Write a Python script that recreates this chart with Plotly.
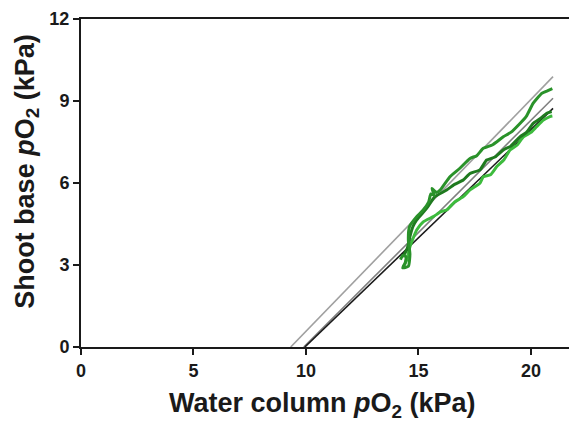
import plotly.graph_objects as go

# Green traces (measured shoot base pO2 vs water column pO2)
top_x = [14.2, 14.3, 14.45, 14.4, 14.3, 14.55, 14.62, 14.55, 14.6, 14.92, 15.2, 15.45, 15.55, 15.7, 15.6, 15.8, 15.96, 16.4, 16.84, 17.29, 17.59, 17.88, 18.3, 18.77, 19.1, 19.51, 19.8, 20.1, 20.48, 20.75, 20.95]
top_y = [3.2, 3.35, 3.3, 3.05, 2.9, 2.95, 3.4, 3.9, 4.4, 4.77, 5.0, 5.3, 5.6, 5.55, 5.8, 5.65, 5.74, 6.23, 6.54, 6.9, 7.0, 7.27, 7.4, 7.69, 7.85, 8.18, 8.45, 8.92, 9.28, 9.38, 9.45]

mid_x = [14.3, 14.5, 14.62, 14.75, 14.92, 15.36, 15.73, 16.25, 16.6, 16.99, 17.29, 17.73, 18.03, 18.4, 18.77, 19.1, 19.51, 19.8, 20.1, 20.4, 20.7, 20.92]
mid_y = [3.3, 3.6, 4.04, 4.4, 4.65, 5.07, 5.5, 5.74, 5.95, 6.11, 6.35, 6.48, 6.84, 6.95, 7.21, 7.35, 7.69, 7.85, 8.18, 8.35, 8.55, 8.61]

low_x = [14.32, 14.48, 14.62, 14.92, 15.21, 15.66, 16.0, 16.25, 16.6, 16.99, 17.29, 17.73, 17.88, 18.2, 18.48, 18.8, 19.07, 19.4, 19.66, 20.0, 20.25, 20.55, 20.84, 20.95]
low_y = [2.94, 3.18, 3.67, 4.28, 4.58, 4.77, 4.95, 5.01, 5.3, 5.5, 5.75, 5.99, 6.23, 6.3, 6.6, 6.85, 7.21, 7.4, 7.69, 7.85, 8.06, 8.3, 8.43, 8.45]

# Regression lines (endpoints)
reg_lightgray_x = [9.32, 20.98]
reg_lightgray_y = [0.0, 9.89]
reg_gray_x = [9.9, 20.98]
reg_gray_y = [0.0, 9.1]
reg_black_x = [9.95, 20.98]
reg_black_y = [0.0, 8.73]

x_ticks = [0, 5, 10, 15, 20]
y_ticks = [0, 3, 6, 9, 12]

x_title = "Water column <i>p</i>O<sub>2</sub> (kPa)"
y_title = "Shoot base <i>p</i>O<sub>2</sub> (kPa)"

fig = go.Figure()
for xs, ys, c, w in [
    (reg_lightgray_x, reg_lightgray_y, "#a0a0a0", 1.6),
    (reg_gray_x, reg_gray_y, "#808080", 1.6),
    (reg_black_x, reg_black_y, "#1a1a1a", 1.6),
]:
    fig.add_trace(go.Scatter(x=xs, y=ys, mode="lines", line=dict(color=c, width=w), showlegend=False))

for xs, ys, c in [
    (low_x, low_y, "#3dbb3d"),
    (mid_x, mid_y, "#1f7a1f"),
    (top_x, top_y, "#2a922a"),
]:
    fig.add_trace(go.Scatter(x=xs, y=ys, mode="lines", line=dict(color=c, width=3, shape="spline", smoothing=0.5), showlegend=False))

font_family = "Liberation Sans, Arial, sans-serif"
fig.update_layout(
    width=569, height=422,
    margin=dict(l=81, r=0, t=19, b=75),
    plot_bgcolor="white", paper_bgcolor="white",
    font=dict(family=font_family, color="#1a1a1a"),
    xaxis=dict(
        range=[0, 21.69], tickvals=x_ticks, showgrid=False, zeroline=False, automargin=False,
        showline=True, linecolor="#1a1a1a", linewidth=2, mirror=True,
        ticks="outside", ticklen=6, tickwidth=1.5, tickcolor="#1a1a1a",
        tickfont=dict(size=18, weight="bold", family=font_family),
    ),
    yaxis=dict(
        range=[0, 12], tickvals=y_ticks, showgrid=False, zeroline=False, automargin=False,
        showline=True, linecolor="#1a1a1a", linewidth=2,
        ticks="outside", ticklen=6, tickwidth=1.5, tickcolor="#1a1a1a",
        tickfont=dict(size=18, weight="bold", family=font_family),
    ),
    annotations=[
        dict(text=x_title, xref="paper", yref="paper", x=0.495, y=-0.178,
             xanchor="center", yanchor="middle", showarrow=False,
             font=dict(size=27, weight="bold", family=font_family, color="#1a1a1a")),
        dict(text=y_title, xref="paper", yref="paper", x=-0.112, y=0.535,
             xanchor="center", yanchor="middle", showarrow=False, textangle=-90,
             font=dict(size=27, weight="bold", family=font_family, color="#1a1a1a")),
    ],
)
fig.write_html("out.html", config={"displayModeBar": False},
               post_script="document.body.style.margin='0';document.body.style.overflow='hidden';")
